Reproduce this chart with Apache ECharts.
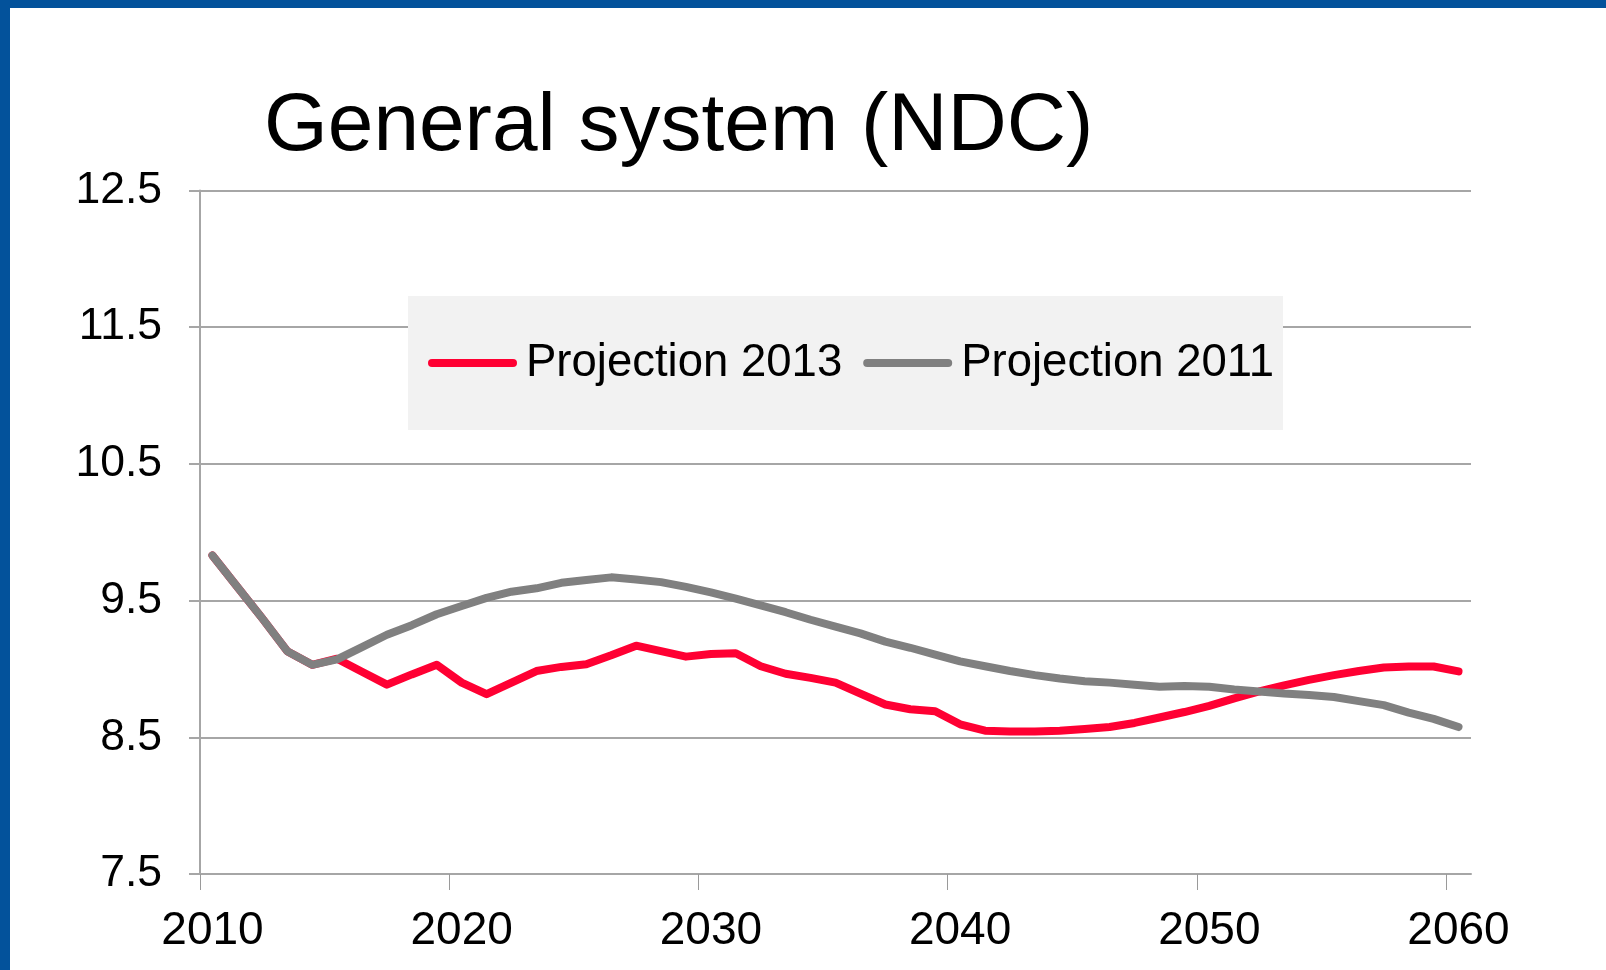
<!DOCTYPE html>
<html>
<head>
<meta charset="utf-8">
<title>General system (NDC)</title>
<script src="https://cdn.jsdelivr.net/npm/echarts@6/dist/echarts.min.js"></script>
<style>
  html, body { margin: 0; padding: 0; background: #ffffff; }
  #chart { width: 1606px; height: 970px; }
</style>
</head>
<body>
<div id="chart"></div>
<script>
// Years on the horizontal axis (one category per year)
const years = [];
for (let y = 2010; y <= 2060; y++) years.push(String(y));

// Projection 2013 (red)
const projection2013 = [
  9.83, 9.60, 9.37, 9.13, 9.03, 9.075, 8.98, 8.885, 8.96, 9.03,
  8.90, 8.815, 8.90, 8.985, 9.015, 9.035, 9.10, 9.17, 9.13, 9.09,
  9.11, 9.115, 9.02, 8.965, 8.935, 8.90, 8.82, 8.74, 8.705, 8.69,
  8.595, 8.548, 8.543, 8.543, 8.548, 8.56, 8.575, 8.605, 8.645, 8.685,
  8.73, 8.785, 8.835, 8.88, 8.92, 8.955, 8.985, 9.01, 9.018, 9.018,
  8.982
];

// Projection 2011 (grey)
const projection2011 = [
  9.83, 9.60, 9.37, 9.13, 9.03, 9.07, 9.16, 9.25, 9.32, 9.40,
  9.46, 9.52, 9.565, 9.59, 9.63, 9.65, 9.67, 9.655, 9.635, 9.60,
  9.56, 9.515, 9.465, 9.415, 9.36, 9.31, 9.26, 9.20, 9.155, 9.105,
  9.055, 9.02, 8.985, 8.955, 8.93, 8.91, 8.90, 8.885, 8.87, 8.875,
  8.87, 8.85, 8.835, 8.82, 8.81, 8.795, 8.765, 8.735, 8.68, 8.635,
  8.575
];

// Positions (in category units) of the decade tick marks
const decadeTicks = [0, 10, 20, 30, 40, 50];

const seriesNames = ['Projection 2013', 'Projection 2011'];
const titleText = 'General system (NDC)';

const FONT = '"Liberation Sans", Arial, sans-serif';
const GRID_COLOR = '#a6a6a6';
const FRAME_BLUE = '#03529b';

const chart = echarts.init(document.getElementById('chart'), null, { renderer: 'canvas' });

const roundLine = 'path://M4,0 L85,0 A4,4 0 0 1 85,8 L4,8 A4,4 0 0 1 4,0 Z';

chart.setOption({
  backgroundColor: '#ffffff',
  animation: false,
  title: {
    text: titleText,
    left: 264,
    top: 86,
    padding: 0,
    textStyle: { fontFamily: FONT, fontSize: 82, fontWeight: 'normal', color: '#000000' }
  },
  legend: {
    left: 408,
    top: 296,
    orient: 'horizontal',
    backgroundColor: '#f2f2f2',
    padding: [44, 9, 44, 20],
    itemWidth: 89,
    itemHeight: 8,
    itemGap: 21,
    icon: roundLine,
    data: seriesNames,
    textStyle: { fontFamily: FONT, fontSize: 45.5, color: '#000000', padding: [0, 0, 0, 4] }
  },
  grid: { left: 200, right: 135, top: 190.5, bottom: 96 },
  xAxis: [
    {
      type: 'category',
      data: years,
      boundaryGap: true,
      axisLine: { show: true, lineStyle: { color: GRID_COLOR, width: 2 } },
      axisTick: { show: false },
      axisLabel: {
        interval: 9,
        margin: 34,
        fontFamily: FONT,
        fontSize: 46,
        color: '#000000'
      },
      splitLine: { show: false }
    },
    {
      // decade tick marks on the category boundaries
      type: 'value',
      position: 'bottom',
      min: 0,
      max: years.length,
      axisLine: { show: false },
      axisLabel: { show: false },
      splitLine: { show: false },
      axisTick: {
        show: true,
        length: 16,
        customValues: decadeTicks,
        lineStyle: { color: '#9a9a9a', width: 1 }
      }
    }
  ],
  yAxis: {
    type: 'value',
    min: 7.5,
    max: 12.5,
    interval: 1,
    axisLine: { show: true, lineStyle: { color: GRID_COLOR, width: 2 } },
    axisTick: { show: true, length: 11, lineStyle: { color: GRID_COLOR, width: 2 } },
    axisLabel: {
      margin: 38,
      fontFamily: FONT,
      fontSize: 44.5,
      color: '#000000',
      formatter: v => v.toFixed(1)
    },
    splitLine: { show: true, lineStyle: { color: GRID_COLOR, width: 2 } }
  },
  series: [
    {
      name: seriesNames[0],
      type: 'line',
      data: projection2013,
      color: '#ff0033',
      showSymbol: false,
      symbol: 'none',
      smooth: false,
      lineStyle: { width: 8, color: '#ff0033', cap: 'round', join: 'round' },
      z: 2
    },
    {
      name: seriesNames[1],
      type: 'line',
      data: projection2011,
      color: '#808080',
      showSymbol: false,
      symbol: 'none',
      smooth: false,
      lineStyle: { width: 8, color: '#808080', cap: 'round', join: 'round' },
      z: 3
    }
  ],
  graphic: [
    { type: 'rect', left: 0, top: 0, shape: { width: 10, height: 970 }, style: { fill: FRAME_BLUE }, z: 100 },
    { type: 'rect', left: 0, top: 0, shape: { width: 1606, height: 8 }, style: { fill: FRAME_BLUE }, z: 100 }
  ]
});
</script>
</body>
</html>
